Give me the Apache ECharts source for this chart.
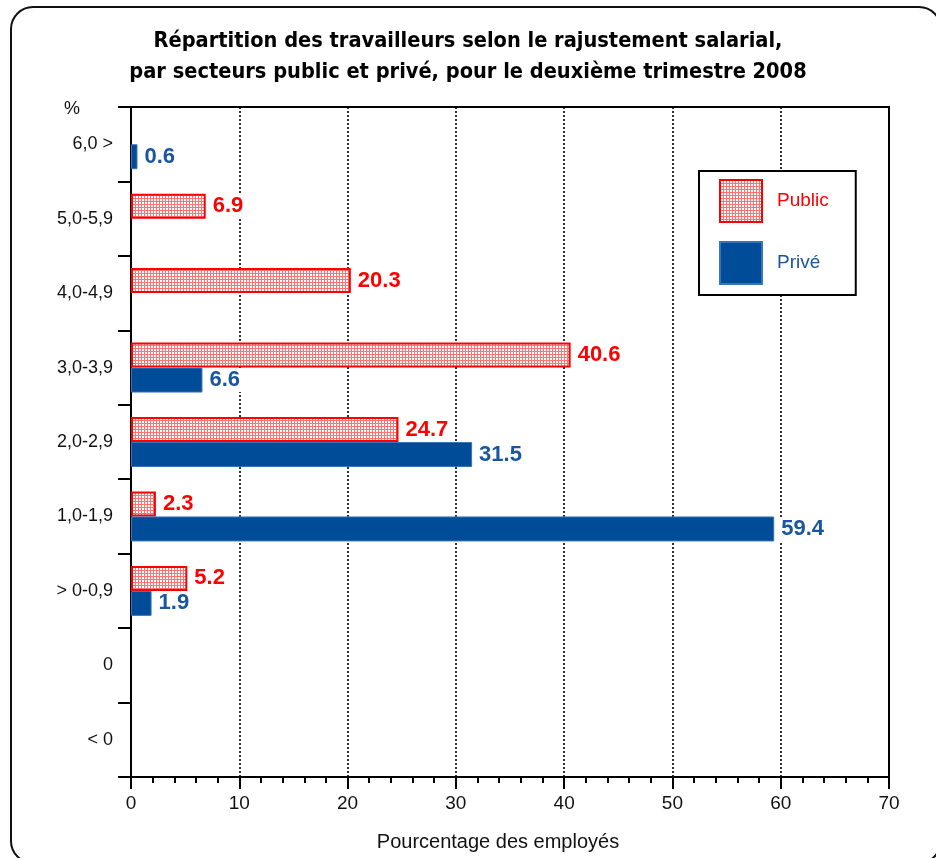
<!DOCTYPE html>
<html>
<head>
<meta charset="utf-8">
<script src="https://cdn.jsdelivr.net/npm/echarts@6/dist/echarts.min.js"></script>
<style>
  html, body { margin: 0; padding: 0; background: #fff; }
  #chart { width: 936px; height: 858px; }
</style>
</head>
<body>
<div id="chart"></div>
<script>
// categories listed bottom to top (y axis starts at the bottom)
var categories = ['< 0', '0', '> 0-0,9', '1,0-1,9', '2,0-2,9', '3,0-3,9', '4,0-4,9', '5,0-5,9', '6,0 >'];
var publicValues = [null, null, 5.2, 2.3, 24.7, 40.6, 20.3, 6.9, null];
var priveValues = [null, null, 1.9, 59.4, 31.5, 6.6, null, null, 0.6];
var xMin = 0, xMax = 70, xStep = 10;

var titleText = 'Répartition des travailleurs selon le rajustement salarial,\npar secteurs public et privé, pour le deuxième trimestre 2008';

var red = '#ff0000';
var blue = '#004c99';
var blueText = '#1a56a0';
var ink = '#111';

function makePattern() {
    var c = document.createElement('canvas');
    c.width = 3;
    c.height = 3;
    var ctx = c.getContext('2d');
    ctx.fillStyle = '#ffffff';
    ctx.fillRect(0, 0, 3, 3);
    ctx.fillStyle = 'rgba(255,0,0,0.55)';
    ctx.fillRect(0, 0, 3, 1);
    ctx.fillRect(0, 1, 1, 2);
    return c;
}

function valueLabel(color) {
    return {
        show: true,
        position: 'right',
        distance: 5,
        color: color,
        fontWeight: 'bold',
        fontSize: 22,
        backgroundColor: '#fff',
        padding: [1, 2]
    };
}

var chart = echarts.init(document.getElementById('chart'), null, { renderer: 'canvas' });
var font = "'Liberation Sans', Arial, sans-serif";

var option = {
    animation: false,
    backgroundColor: '#fff',
    textStyle: { fontFamily: font },
    title: {
        text: titleText,
        left: 'center',
        top: 21,
        textStyle: {
            fontFamily: "'Liberation Sans Narrow', 'DejaVu Sans Condensed', sans-serif",
            fontWeight: 'bold',
            fontSize: 21.6,
            lineHeight: 31,
            color: '#000'
        }
    },
    graphic: [{
        type: 'rect',
        silent: true,
        z: -1,
        shape: { x: 11, y: 7, width: 930, height: 856, r: 22 },
        style: { fill: 'none', stroke: '#111', lineWidth: 2 }
    }],
    legend: {
        orient: 'vertical',
        left: 699,
        top: 171,
        data: [
            { name: 'Public', textStyle: { color: red } },
            { name: 'Privé', textStyle: { color: blueText } }
        ],
        itemWidth: 42,
        itemHeight: 42,
        itemGap: 18,
        padding: [8, 27, 10, 20],
        backgroundColor: '#fff',
        borderColor: '#000',
        borderWidth: 2,
        borderRadius: 0,
        icon: 'rect',
        textStyle: { fontSize: 19, padding: [0, 0, 0, 10] }
    },
    grid: {
        left: 131,
        right: 47,
        top: 107,
        bottom: 81,
        show: true,
        borderColor: '#000',
        borderWidth: 2,
        containLabel: false
    },
    xAxis: {
        type: 'value',
        min: xMin,
        max: xMax,
        interval: xStep,
        name: 'Pourcentage des employés',
        nameLocation: 'middle',
        nameGap: 55,
        nameTextStyle: { fontSize: 20, color: ink, padding: [0, 24, 0, 0] },
        axisLine: { show: true, lineStyle: { color: '#000', width: 2 } },
        axisTick: { show: true, length: 12, lineStyle: { color: '#000', width: 2 } },
        minorTick: { show: true, splitNumber: 5, length: 6, lineStyle: { color: '#000', width: 2 } },
        axisLabel: { fontSize: 19, color: ink, margin: 17 },
        splitLine: { show: true, lineStyle: { color: '#000', width: 1.6, type: [2, 2] } }
    },
    yAxis: {
        type: 'category',
        data: categories,
        name: '%',
        nameLocation: 'end',
        nameGap: -2,
        nameTextStyle: { fontSize: 18, color: ink, verticalAlign: 'middle', padding: [0, 118, 0, 0] },
        axisLine: { show: true, lineStyle: { color: '#000', width: 2 } },
        axisTick: { show: true, length: 13, lineStyle: { color: '#000', width: 2 } },
        axisLabel: { fontSize: 18, color: ink, margin: 18 },
        splitLine: { show: false }
    },
    series: [{
        name: 'Public',
        type: 'bar',
        data: publicValues,
        barWidth: 25,
        barGap: '0%',
        itemStyle: {
            color: { image: makePattern(), repeat: 'repeat' },
            borderColor: red,
            borderWidth: 2
        },
        label: valueLabel(red)
    }, {
        name: 'Privé',
        type: 'bar',
        data: priveValues,
        barWidth: 25,
        barGap: '0%',
        itemStyle: { color: blue, borderColor: '#3a74b8', borderWidth: 1 },
        label: valueLabel(blueText)
    }]
};

chart.setOption(option);
</script>
</body>
</html>
